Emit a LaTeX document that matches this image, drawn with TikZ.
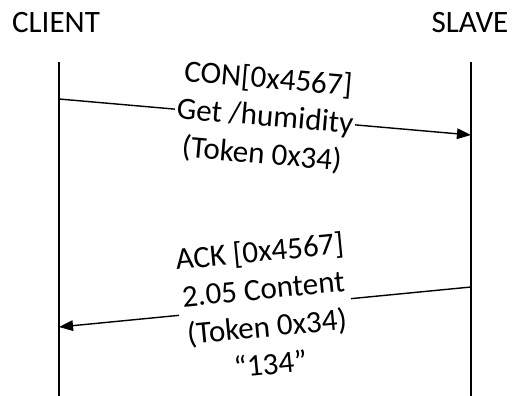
\documentclass[tikz,border=0pt]{standalone}
\usepackage{fontspec}
\setmainfont{Carlito}
\usetikzlibrary{arrows.meta}

\begin{document}
\begin{tikzpicture}[x=0.02cm, y=-0.02cm,
  party/.style = {font=\fontsize{17.7}{21}\selectfont, inner sep=0pt, anchor=base},
  lifeline/.style = {line width=0.8pt},
  msg/.style = {line width=0.8pt, -{Triangle[length=8pt, width=6pt]}},
  msglabel/.style = {fill=white, sloped, align=center, inner sep=1pt,
    font=\fontsize{17.7}{21.5}\selectfont}]
\useasboundingbox (0,0) rectangle (515,396);
\node[party] (client) at (56,32) {CLIENT};
\node[party] (slave) at (470,32) {SLAVE};
\coordinate (ctop) at (59,62);
\coordinate (cbot) at (59,396);
\coordinate (stop) at (471,62);
\coordinate (sbot) at (471,396);
\draw[lifeline] (ctop) -- (cbot);
\draw[lifeline] (stop) -- (sbot);
\coordinate (req1) at (59,99);
\coordinate (req2) at (471,135);
\coordinate (ack1) at (471,287);
\coordinate (ack2) at (59,327);
\draw[msg] (req1) -- node[msglabel] {CON[0x4567]\\Get /humidity\\(Token 0x34)} (req2);
\draw[msg] (ack1) -- node[msglabel] {ACK [0x4567]\\2.05 Content\\(Token 0x34)\\“134”} (ack2);
\end{tikzpicture}
\end{document}
